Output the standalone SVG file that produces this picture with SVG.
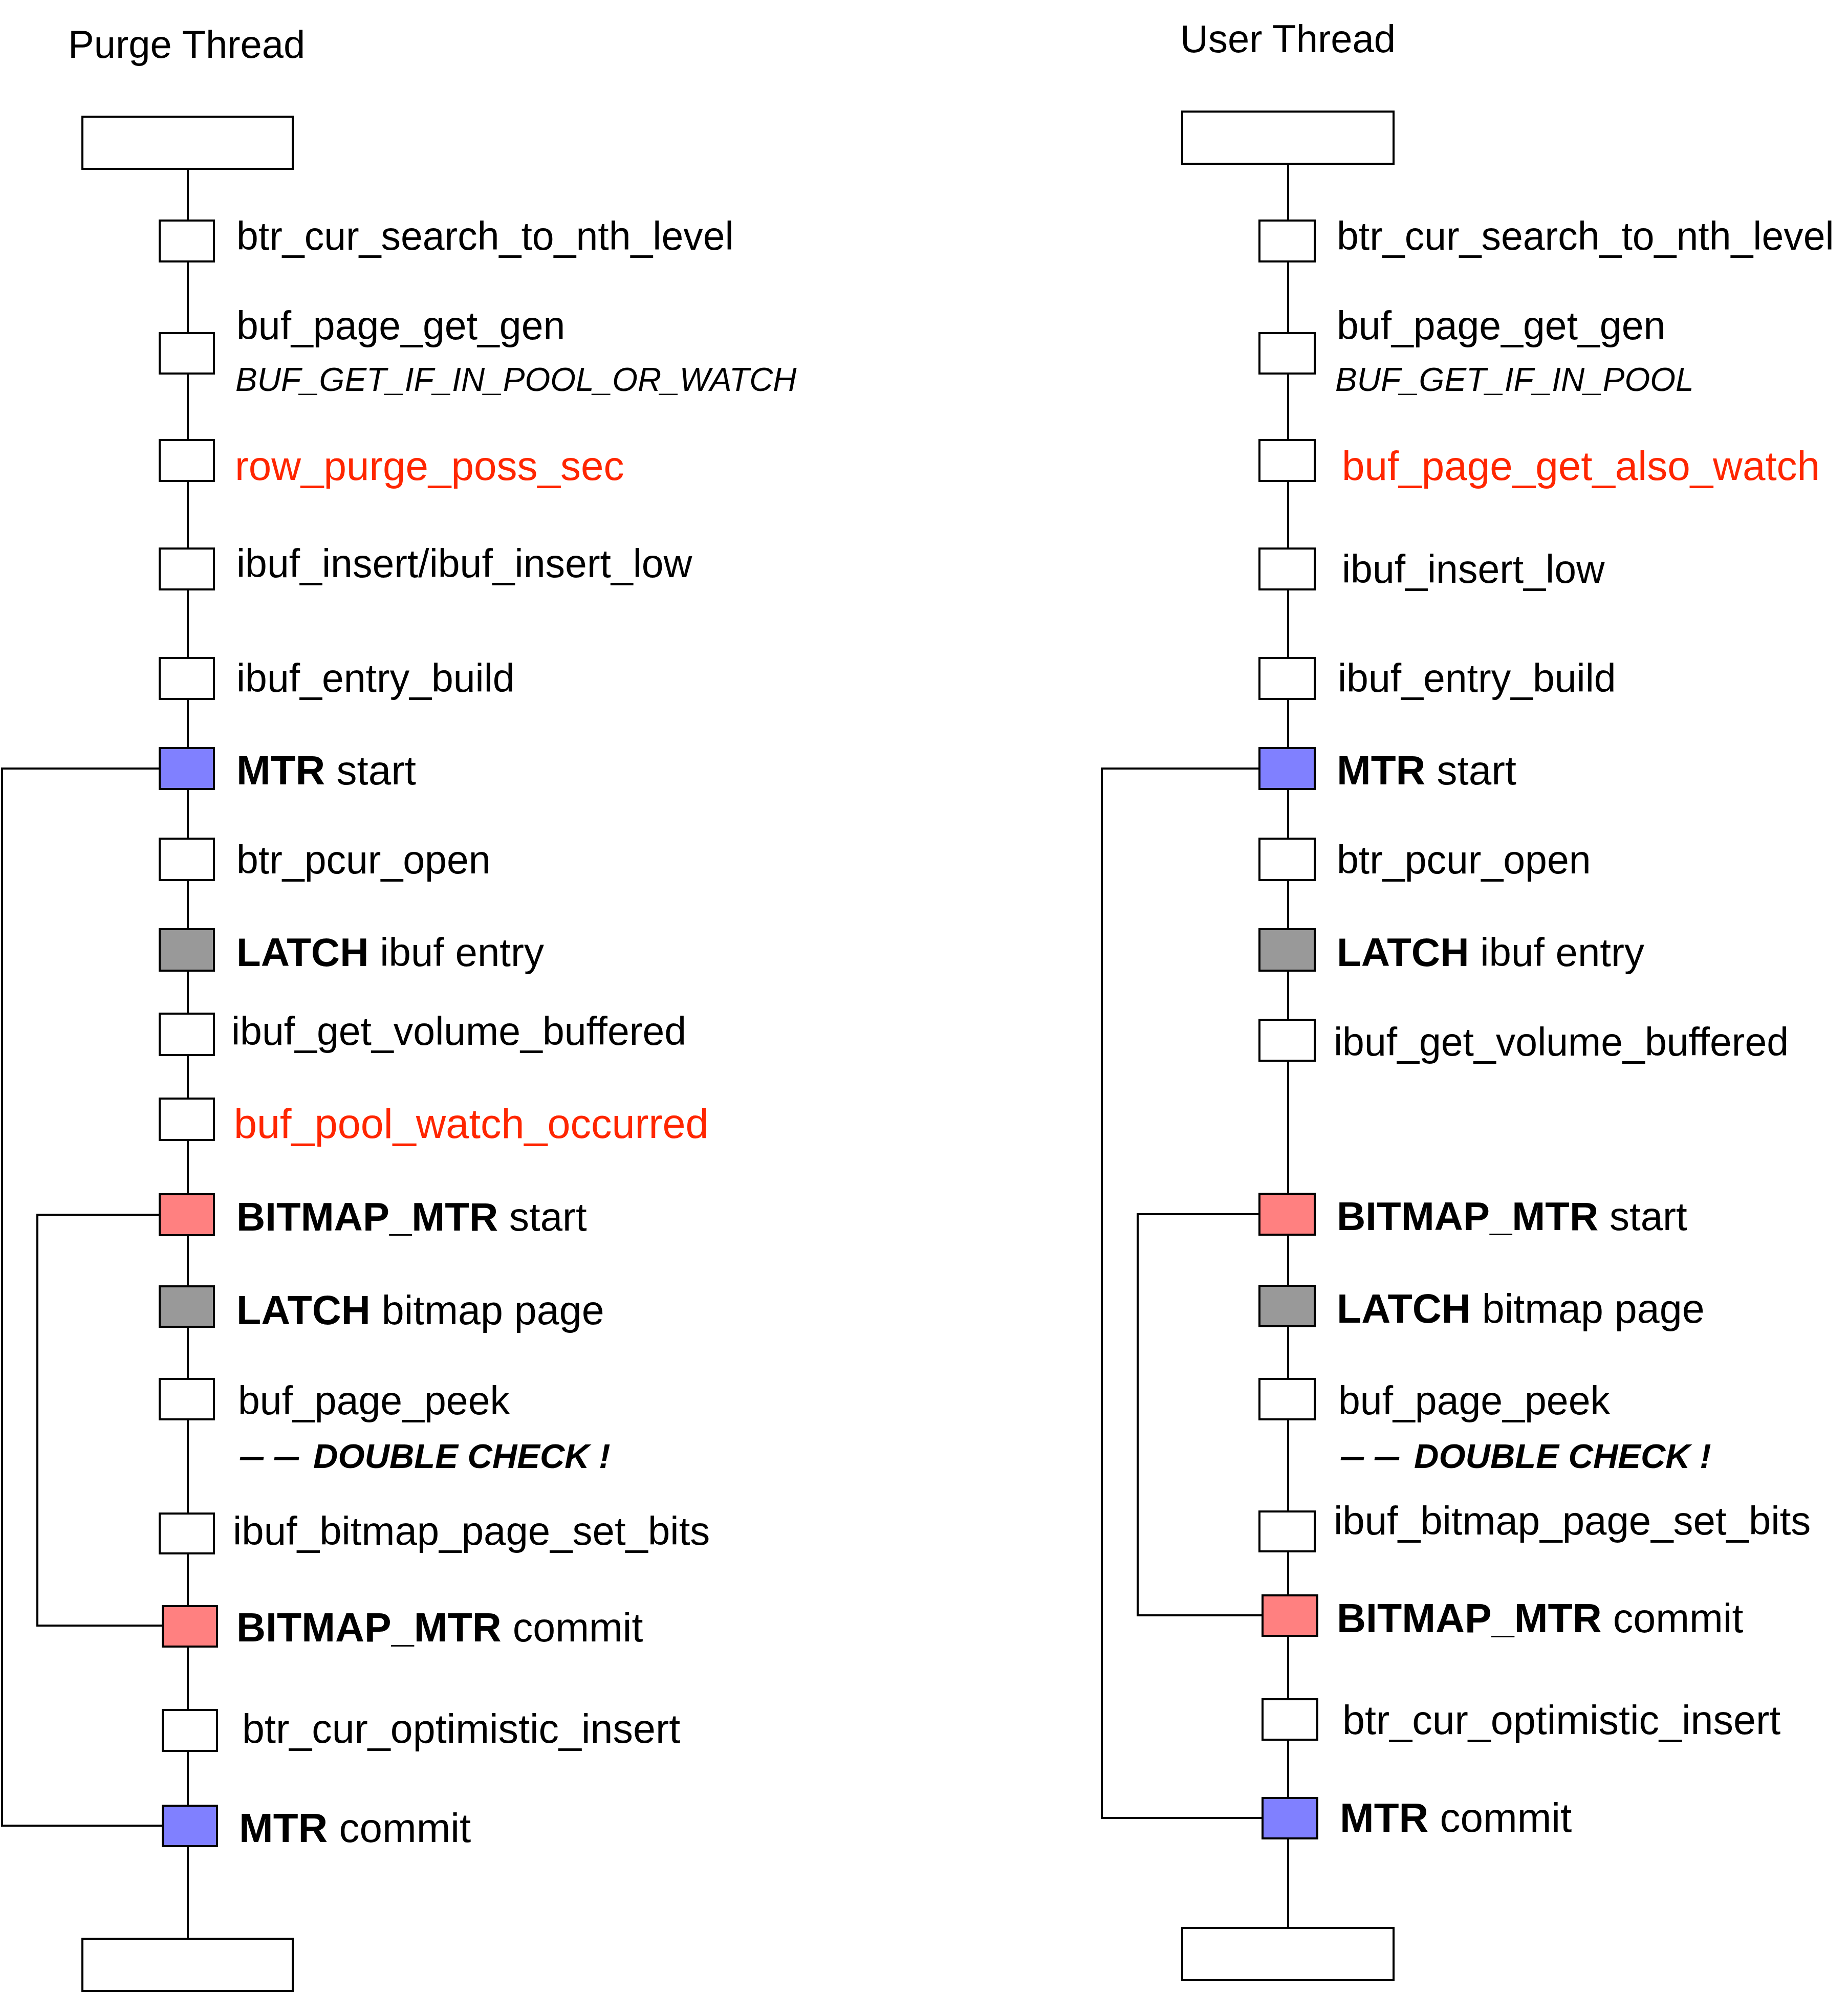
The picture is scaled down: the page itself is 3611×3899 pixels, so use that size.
<svg xmlns="http://www.w3.org/2000/svg" width="3611" height="3899" viewBox="0 0 3611 3899">
<style>
  text { font-family: "Liberation Sans", Arial, sans-serif; font-size: 77px; fill: #000; }
  .title { font-size: 76px; }
  .it { font-style: italic; font-size: 64px; }
  .red { fill: #FF2600; font-size: 80px; }
  .b { font-weight: bold; }
  .s78 { font-size: 78px; }
  .s79 { font-size: 79px; }
  .s80 { font-size: 80px; }
  .dc { font-style: italic; font-weight: bold; font-size: 67px; }
  .box { stroke: #000; stroke-width: 4; fill: #fff; }
  .blue { fill: #8080FF; }
  .pink { fill: #FF8080; }
  .gray { fill: #999999; }
  .wire { stroke: #000; stroke-width: 4; fill: none; }
</style>
<rect width="3611" height="3899" fill="#fff"/>
<g id="connectors">
  <line class="wire" x1="367" y1="330" x2="367" y2="3789"/>
  <path class="wire" d="M312,1502 H4 V3568 H318"/>
  <path class="wire" d="M312,2374 H73 V3177 H318"/>
  <line class="wire" x1="2517" y1="320" x2="2517" y2="3768"/>
  <path class="wire" d="M2461,1502 H2153 V3553 H2467"/>
  <path class="wire" d="M2461,2373 H2223 V3157 H2467"/>
</g>
<g id="purge-thread">
  <text class="title" x="133" y="113">Purge Thread</text>
  <g id="p-top"><rect class="box" x="161" y="228" width="411" height="102"/></g>
  <g id="p1"><rect class="box" x="312" y="431" width="106" height="80"/><text x="462" y="488">btr_cur_search_to_nth_level</text></g>
  <g id="p2"><rect class="box" x="312" y="651" width="106" height="79"/><text x="462" y="663">buf_page_get_gen</text><text class="it" x="460" y="764">BUF_GET_IF_IN_POOL_OR_WATCH</text></g>
  <g id="p3"><rect class="box" x="312" y="860" width="106" height="80"/><text class="red" x="459" y="938">row_purge_poss_sec</text></g>
  <g id="p4"><rect class="box" x="312" y="1072" width="106" height="80"/><text x="462" y="1128">ibuf_insert/ibuf_insert_low</text></g>
  <g id="p5"><rect class="box" x="312" y="1286" width="106" height="80"/><text x="462" y="1352">ibuf_entry_build</text></g>
  <g id="p6"><rect class="box blue" x="312" y="1462" width="106" height="80"/><text class="s80" x="462" y="1533"><tspan class="b">MTR</tspan> start</text></g>
  <g id="p7"><rect class="box" x="312" y="1639" width="106" height="81"/><text x="462" y="1707">btr_pcur_open</text></g>
  <g id="p8"><rect class="box gray" x="312" y="1816" width="106" height="81"/><text class="s78" x="462" y="1888"><tspan class="b">LATCH</tspan> ibuf entry</text></g>
  <g id="p9"><rect class="box" x="312" y="1981" width="106" height="81"/><text x="452" y="2042">ibuf_get_volume_buffered</text></g>
  <g id="p10"><rect class="box" x="312" y="2147" width="106" height="81"/><text class="red" x="457" y="2224" style="font-size:81px">buf_pool_watch_occurred</text></g>
  <g id="p11"><rect class="box pink" x="312" y="2334" width="106" height="80"/><text class="s78" x="462" y="2405"><tspan class="b">BITMAP_MTR</tspan> start</text></g>
  <g id="p12"><rect class="box gray" x="312" y="2514" width="106" height="79"/><text class="s79" x="462" y="2588"><tspan class="b">LATCH</tspan> bitmap page</text></g>
  <g id="p13"><rect class="box" x="312" y="2695" width="106" height="79"/><text x="465" y="2764">buf_page_peek</text>
    <text class="dc" y="2869"><tspan x="469" textLength="46" lengthAdjust="spacingAndGlyphs">—</tspan><tspan x="536" textLength="48" lengthAdjust="spacingAndGlyphs">—</tspan><tspan x="612">DOUBLE CHECK !</tspan></text></g>
  <g id="p14"><rect class="box" x="312" y="2958" width="106" height="78"/><text class="s78" x="455" y="3019">ibuf_bitmap_page_set_bits</text></g>
  <g id="p15"><rect class="box pink" x="318" y="3139" width="106" height="79"/><text class="s79" x="462" y="3208"><tspan class="b">BITMAP_MTR</tspan> commit</text></g>
  <g id="p16"><rect class="box" x="318" y="3342" width="106" height="80"/><text class="s79" x="473" y="3406">btr_cur_optimistic_insert</text></g>
  <g id="p17"><rect class="box blue" x="318" y="3529" width="106" height="79"/><text class="s80" x="467" y="3600"><tspan class="b">MTR</tspan> commit</text></g>
  <g id="p-bottom"><rect class="box" x="161" y="3789" width="411" height="102"/></g>
</g>
<g id="user-thread">
  <text class="title" x="2306" y="102">User Thread</text>
  <g id="u-top"><rect class="box" x="2310" y="218" width="413" height="102"/></g>
  <g id="u1"><rect class="box" x="2461" y="431" width="108" height="80"/><text x="2612" y="488">btr_cur_search_to_nth_level</text></g>
  <g id="u2"><rect class="box" x="2461" y="651" width="108" height="79"/><text x="2612" y="663">buf_page_get_gen</text><text class="it" x="2609" y="764">BUF_GET_IF_IN_POOL</text></g>
  <g id="u3"><rect class="box" x="2461" y="860" width="108" height="80"/><text class="red" x="2622" y="938">buf_page_get_also_watch</text></g>
  <g id="u4"><rect class="box" x="2461" y="1072" width="108" height="80"/><text x="2622" y="1139">ibuf_insert_low</text></g>
  <g id="u5"><rect class="box" x="2461" y="1286" width="108" height="80"/><text x="2614" y="1352">ibuf_entry_build</text></g>
  <g id="u6"><rect class="box blue" x="2461" y="1462" width="108" height="80"/><text class="s80" x="2612" y="1533"><tspan class="b">MTR</tspan> start</text></g>
  <g id="u7"><rect class="box" x="2461" y="1639" width="108" height="81"/><text x="2612" y="1707">btr_pcur_open</text></g>
  <g id="u8"><rect class="box gray" x="2461" y="1816" width="108" height="81"/><text class="s78" x="2612" y="1888"><tspan class="b">LATCH</tspan> ibuf entry</text></g>
  <g id="u9"><rect class="box" x="2461" y="1993" width="108" height="80"/><text x="2606" y="2063">ibuf_get_volume_buffered</text></g>
  <g id="u10"><rect class="box pink" x="2461" y="2333" width="108" height="80"/><text class="s78" x="2612" y="2404"><tspan class="b">BITMAP_MTR</tspan> start</text></g>
  <g id="u11"><rect class="box gray" x="2461" y="2513" width="108" height="79"/><text class="s79" x="2612" y="2585"><tspan class="b">LATCH</tspan> bitmap page</text></g>
  <g id="u12"><rect class="box" x="2461" y="2695" width="108" height="79"/><text x="2615" y="2764">buf_page_peek</text>
    <text class="dc" y="2869"><tspan x="2620" textLength="45" lengthAdjust="spacingAndGlyphs">—</tspan><tspan x="2686" textLength="48" lengthAdjust="spacingAndGlyphs">—</tspan><tspan x="2763">DOUBLE CHECK !</tspan></text></g>
  <g id="u13"><rect class="box" x="2461" y="2954" width="108" height="78"/><text class="s78" x="2606" y="2999">ibuf_bitmap_page_set_bits</text></g>
  <g id="u14"><rect class="box pink" x="2467" y="3118" width="107" height="79"/><text class="s79" x="2612" y="3190"><tspan class="b">BITMAP_MTR</tspan> commit</text></g>
  <g id="u15"><rect class="box" x="2467" y="3321" width="107" height="79"/><text class="s79" x="2623" y="3389">btr_cur_optimistic_insert</text></g>
  <g id="u16"><rect class="box blue" x="2467" y="3514" width="107" height="79"/><text class="s80" x="2618" y="3580"><tspan class="b">MTR</tspan> commit</text></g>
  <g id="u-bottom"><rect class="box" x="2310" y="3768" width="413" height="102"/></g>
</g>
</svg>
